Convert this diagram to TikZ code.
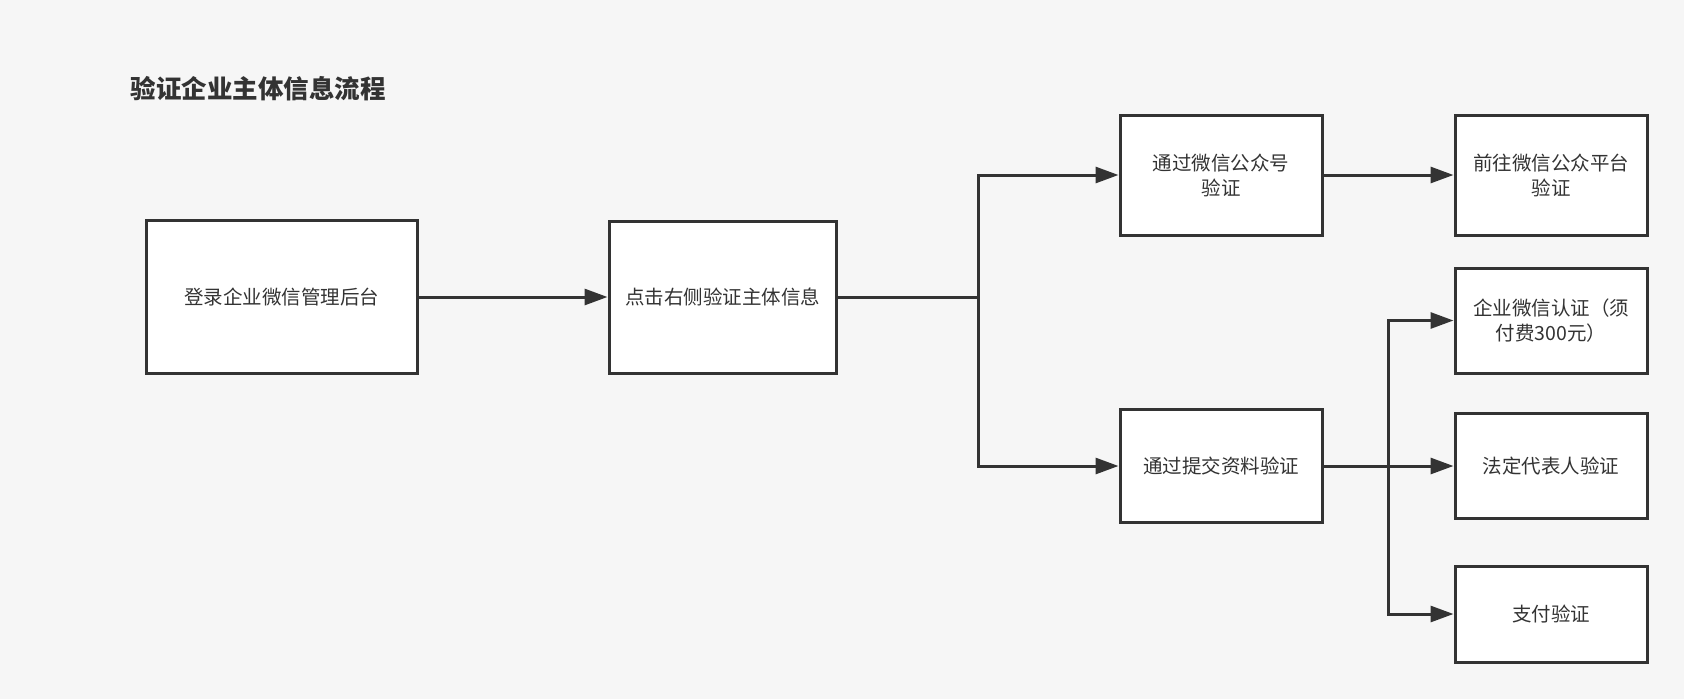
\documentclass[tikz,border=0pt]{standalone}
\usepackage{fontspec}
\setmainfont{Noto Sans CJK SC}
\usetikzlibrary{arrows.meta}
\definecolor{ink}{HTML}{333333}
\definecolor{bgc}{HTML}{F6F6F6}
\tikzset{
  box/.style={draw=ink, line width=3pt, fill=white, inner sep=0pt, align=center,
    text=ink, font=\fontsize{19.5}{25}\selectfont},
  conn/.style={draw=ink, line width=3pt},
  arr/.style={conn, -{Triangle[length=23pt,width=16pt]}},
}
\begin{document}
\begin{tikzpicture}[x=1pt,y=-1pt]
\useasboundingbox (0,0) rectangle (1684,699);
\fill[bgc] (0,0) rectangle (1684,699);
\node[anchor=west, text=ink, font=\fontsize{25.5}{30}\selectfont\bfseries] (title) at (127,89) {验证企业主体信息流程};
\node[box, minimum width=271pt, minimum height=153pt] (A) at (281.5,297) {登录企业微信管理后台};
\node[box, minimum width=227pt, minimum height=152pt] (B) at (722.5,297) {点击右侧验证主体信息};
\node[box, minimum width=202pt, minimum height=120pt] (C) at (1221,175) {通过微信公众号\\验证};
\node[box, minimum width=192pt, minimum height=120pt] (D) at (1551,175) {前往微信公众平台\\验证};
\node[box, minimum width=192pt, minimum height=105pt] (E) at (1551,320.5) {企业微信认证（须\\付费300元）};
\node[box, minimum width=202pt, minimum height=113pt] (F) at (1221,466) {通过提交资料验证};
\node[box, minimum width=192pt, minimum height=105pt] (G) at (1551,466) {法定代表人验证};
\node[box, minimum width=192pt, minimum height=96pt] (H) at (1551,614) {支付验证};
\coordinate (j1) at (978,297);
\coordinate (j2) at (1388,466);
\draw[arr] (A) -- (B);
\draw[conn] (B) -- (j1);
\draw[arr] (j1) |- (C);
\draw[arr] (j1) |- (F);
\draw[arr] (C) -- (D);
\draw[arr] (F) -- (G);
\draw[arr] (j2) |- (E);
\draw[arr] (j2) |- (H);
\end{tikzpicture}
\end{document}
